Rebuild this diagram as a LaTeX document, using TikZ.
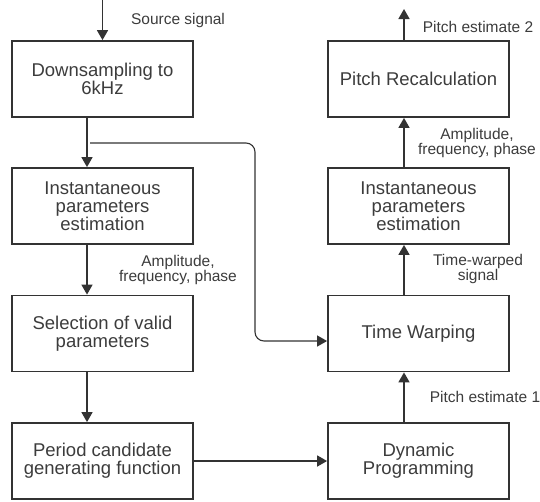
\documentclass[tikz,border=0pt]{standalone}
\usepackage{fontspec}
\setmainfont{Liberation Sans}
\usetikzlibrary{arrows.meta}
\definecolor{ink}{HTML}{333333}
\definecolor{txt}{HTML}{3C3C3C}
\begin{document}
\begin{tikzpicture}[x=1pt,y=-1pt,
  blk/.style={draw=ink, line width=1.8pt, minimum width=181pt, minimum height=76pt, align=center, text=txt, font=\fontsize{18.5}{18}\selectfont, inner sep=0pt},
  lbl/.style={align=center, text=txt, font=\fontsize{15.5}{15}\selectfont, inner sep=0pt},
  conn/.style={draw=ink, line width=1.6pt, -{Triangle[length=10pt,width=11pt]}}]
\useasboundingbox (0,0) rectangle (540,501);
% left column
\node[blk] (ds) at (102.5,79) {Downsampling to\\6kHz};
\node[blk] (ip1) at (102.5,206) {Instantaneous\\parameters\\estimation};
\node[blk] (sv) at (102.5,333.5) {Selection of valid\\parameters};
\node[blk] (pc) at (102.5,461) {Period candidate\\generating function};
% right column
\node[blk] (pr) at (418.5,79) {Pitch Recalculation};
\node[blk] (ip2) at (418.5,206) {Instantaneous\\parameters\\estimation};
\node[blk] (tw) at (418.5,333.5) {Time Warping};
\node[blk] (dp) at (418.5,461) {Dynamic\\Programming};
% free ends
\coordinate (src) at (102.5,0);
\coordinate (out) at (404,9);
\coordinate (br) at (90,143);
% connectors
\draw[conn] (src) -- (ds.north);
\draw[conn] ([xshift=-15.5pt]ds.south) -- ([xshift=-15.5pt]ip1.north);
\draw[conn] ([xshift=-15.5pt]ip1.south) -- ([xshift=-15.5pt]sv.north);
\draw[conn] ([xshift=-15.5pt]sv.south) -- ([xshift=-15.5pt]pc.north);
\draw[conn] (pc.east) -- (dp.west);
\draw[conn] ([xshift=-14.5pt]dp.north) -- ([xshift=-14.5pt]tw.south);
\draw[conn] ([xshift=-14.5pt]tw.north) -- ([xshift=-14.5pt]ip2.south);
\draw[conn] ([xshift=-14.5pt]ip2.north) -- ([xshift=-14.5pt]pr.south);
\draw[conn] ([xshift=-14.5pt]pr.north) -- (out);
\draw[conn, line width=1.1pt, rounded corners=9pt] (br) -- (255,143) -- (255,341) -- (tw.west |- 0,341);
% labels
\node[lbl] (l1) at (178,20) {Source signal};
\node[lbl] (l2) at (478,27) {Pitch estimate 2};
\node[lbl] (l3) at (477,142.5) {Amplitude,\\frequency, phase};
\node[lbl] (l4) at (178,269.5) {Amplitude,\\frequency, phase};
\node[lbl] (l5) at (478,269) {Time-warped\\signal};
\node[lbl] (l6) at (485,397) {Pitch estimate 1};
\end{tikzpicture}
\end{document}
